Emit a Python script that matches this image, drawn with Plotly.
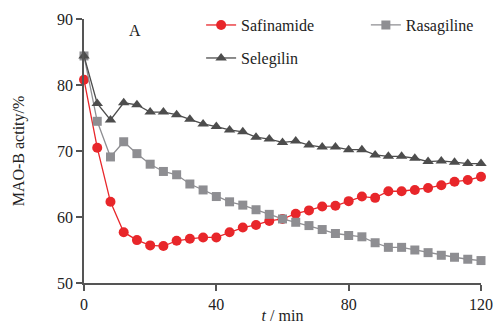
import plotly.graph_objects as go

t = list(range(0, 121, 4))
safinamide = [80.8, 70.5, 62.3, 57.7, 56.5, 55.7, 55.6, 56.4, 56.7, 56.9, 56.9, 57.7, 58.4, 58.8, 59.4,
              59.7, 60.5, 61.0, 61.6, 61.7, 62.4, 63.1, 62.9, 63.9, 63.9, 64.1, 64.4, 64.8, 65.35, 65.6, 66.1]
rasagiline = [84.4, 74.5, 69.1, 71.4, 69.6, 68.0, 66.9, 66.4, 65.0, 64.1, 63.1, 62.3, 61.8, 61.1, 60.4,
              59.7, 59.2, 58.7, 58.1, 57.5, 57.2, 57.0, 56.1, 55.4, 55.4, 55.0, 54.6, 54.2, 53.9, 53.6, 53.4]
selegilin = [84.4, 77.2, 74.7, 77.3, 77.0, 75.9, 75.9, 75.5, 74.8, 74.1, 73.7, 73.2, 72.9, 72.1, 71.8,
             71.3, 71.5, 70.9, 70.6, 70.6, 70.2, 70.2, 69.4, 69.2, 69.2, 68.9, 68.4, 68.5, 68.3, 68.1, 68.1]

x_ticks = [0, 40, 80, 120]
y_ticks = [50, 60, 70, 80, 90]

FONT = "Liberation Serif, Times New Roman, serif"
AX = "#555555"
TXT = "#222222"

fig = go.Figure()
fig.add_trace(go.Scatter(x=t, y=safinamide, name="Safinamide", mode="lines+markers",
                         line=dict(color="#e8262a", width=1.3),
                         marker=dict(symbol="circle", size=10, color="#e8262a"),
                         cliponaxis=False, legend="legend"))
fig.add_trace(go.Scatter(x=t, y=rasagiline, name="Rasagiline", mode="lines+markers",
                         line=dict(color="#8e8e92", width=1.3),
                         marker=dict(symbol="square", size=9, color="#8e8e92"),
                         cliponaxis=False, legend="legend2"))
fig.add_trace(go.Scatter(x=t, y=selegilin, name="Selegilin", mode="lines+markers",
                         line=dict(color="#4d4d4d", width=1.3),
                         marker=dict(symbol="triangle-up", size=10, color="#4d4d4d"),
                         cliponaxis=False, legend="legend3"))

def leg(x, y):
    return dict(orientation="h", x=x, y=y, xanchor="left", yanchor="middle",
                bgcolor="rgba(0,0,0,0)", borderwidth=0, visible=True,
                font=dict(family=FONT, size=16, color=TXT), itemwidth=30)

fig.update_layout(
    width=493, height=324,
    showlegend=True,
    margin=dict(l=84, r=12, t=19, b=41, autoexpand=False),
    plot_bgcolor="white", paper_bgcolor="white",
    font=dict(family=FONT, size=16, color=TXT),
    legend=leg(0.295, 0.977),
    legend2=leg(0.710, 0.977),
    legend3=leg(0.295, 0.852),
    xaxis=dict(range=[0, 120], tickvals=x_ticks, ticktext=[str(v) for v in x_ticks],
               showgrid=False, zeroline=False, showline=True, linecolor=AX, linewidth=1.5,
               ticks="outside", ticklen=6, tickcolor=AX, tickwidth=1.5, automargin=False,
               title=dict(text="<i>t</i> / min", standoff=2,
                          font=dict(family=FONT, size=16, color=TXT))),
    yaxis=dict(range=[50, 90], tickvals=y_ticks, ticktext=[str(v) for v in y_ticks],
               showgrid=False, zeroline=False, showline=True, linecolor=AX, linewidth=1.5,
               ticks="outside", ticklen=6, tickcolor=AX, tickwidth=1.5, automargin=False,
               title=dict(text="MAO-B actity/%", standoff=28,
                          font=dict(family=FONT, size=16, color=TXT))),
    annotations=[dict(text="A", x=0.128, y=0.958, xref="paper", yref="paper",
                      xanchor="center", yanchor="middle",
                      showarrow=False, font=dict(family=FONT, size=16, color=TXT))],
)

fig.write_html("out.html", config={"displayModeBar": False},
               post_script="document.body.style.margin='0px';")
